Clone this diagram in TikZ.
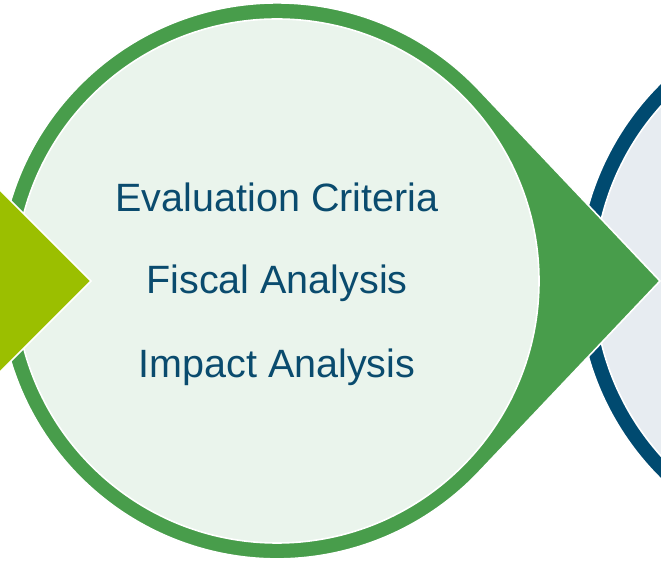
\documentclass[tikz,border=0pt]{standalone}
\usepackage{fontspec}
\setmainfont{Liberation Sans}
\usepackage{tikz}
\definecolor{stepgreen}{HTML}{489D4B}
\definecolor{steplight}{HTML}{EAF4EC}
\definecolor{steplime}{HTML}{9BBF00}
\definecolor{stepblue}{HTML}{004A70}
\definecolor{stepblueback}{HTML}{E7ECF1}
\definecolor{textblue}{HTML}{0A4B6E}
\newcommand{\itemfont}{\fontsize{39.5}{47}\selectfont}

\begin{document}
\begin{tikzpicture}[x=1pt,y=1pt,
  outline/.style={draw=white, line width=1.6pt},
  item/.style={anchor=base, text=textblue, font=\itemfont, inner sep=0pt}]
\clip (0,0) rectangle (661,561);
% next step, mostly off the page
\coordinate (nextc) at (856,280);
\filldraw[outline, fill=stepblue] (nextc) circle[radius=278];
\filldraw[outline, fill=stepblueback] (nextc) circle[radius=262];
% current step
\coordinate (curc) at (277,280);
\coordinate (curtip) at (660,280);
\coordinate (curtop) at (478.8,471.3);
\filldraw[outline, fill=stepgreen] (curtip) -- (curtop)
  arc[start angle=43.46, end angle=316.54, radius=278] -- cycle;
\filldraw[outline, fill=steplight] (curc) circle[radius=262];
% previous step
\coordinate (prevtip) at (91,280);
\filldraw[outline, fill=steplime] (prevtip) -- (-120,491) -- (-120,69) -- cycle;
\node[item] (evalcrit) at (277,349) {Evaluation Criteria};
\node[item] (fiscal) at (277,267) {Fiscal Analysis};
\node[item] (impact) at (277,183) {Impact Analysis};
\end{tikzpicture}
\end{document}
